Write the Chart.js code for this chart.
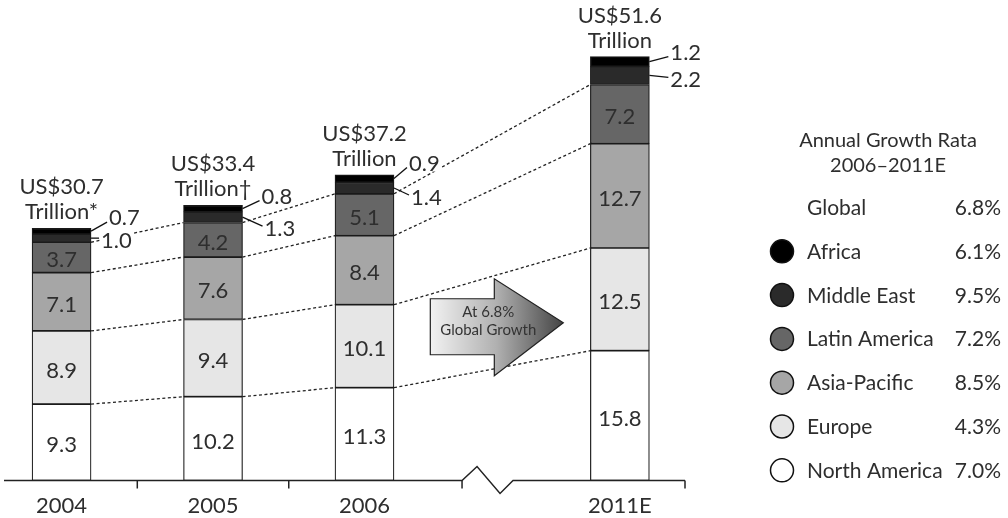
<!DOCTYPE html>
<html><head><meta charset="utf-8">
<script src="https://cdn.jsdelivr.net/npm/chart.js@4"></script>
<style>html,body{margin:0;padding:0;background:#fff}#wrap{position:relative;width:1008px;height:518px}</style>
</head><body><div id="wrap"><canvas id="c"></canvas></div>
<script>
// ---- data ----
const categories = ['2004', '2005', '2006', '2011E'];
const categoryPos = [0, 1, 2, 3.686]; // axis position (axis is broken between 2006 and 2011E)
const totals = ['US$30.7', 'US$33.4', 'US$37.2', 'US$51.6'];
const totalNotes = ['*', '†', '', ''];
const northAmerica = [9.3, 10.2, 11.3, 15.8];
const europe = [8.9, 9.4, 10.1, 12.5];
const asiaPacific = [7.1, 7.6, 8.4, 12.7];
const latinAmerica = [3.7, 4.2, 5.1, 7.2];
const middleEast = [1.0, 1.3, 1.4, 2.2];
const africa = [0.7, 0.8, 0.9, 1.2];
const seriesNames = ['North America', 'Europe', 'Asia-Pacific', 'Latin America', 'Middle East', 'Africa'];
const growthRates = ['7.0%', '4.3%', '8.5%', '7.2%', '9.5%', '6.1%'];
const globalLabel = 'Global';
const globalRate = '6.8%';
const legendTitle = ['Annual Growth Rata', '2006–2011E'];
const arrowText = ['At 6.8%', 'Global Growth'];

// ---- styles ----
const colors = ['#ffffff', '#e6e6e6', '#a6a6a6', '#666666', '#2a2a2a', '#000000'];
const FONT = 'Lato, "Open Sans", sans-serif';
const TXT = '#2e2e2e';
// outside-label offsets for small segments [dx, dy] from bar right edge / segment middle
const meOffsets = [[10, 2], [22, 11], [17, 9], [21, 4]];
const afOffsets = [[18, -14], [19, -13], [15, -16], [21, -10]];

const seriesData = [northAmerica, europe, asiaPacific, latinAmerica, middleEast, africa];

function fmt(v) { return v.toFixed(1); }

const connectors = {
  id: 'connectors',
  beforeDatasetsDraw(chart) {
    const ctx = chart.ctx;
    ctx.save();
    ctx.strokeStyle = '#222';
    ctx.lineWidth = 1.3;
    ctx.setLineDash([3, 2.5]);
    for (let k = 0; k < 4; k++) {
      const meta = chart.getDatasetMeta(k);
      for (let j = 0; j < meta.data.length - 1; j++) {
        const a = meta.data[j].getProps(['x', 'y', 'width'], true);
        const b = meta.data[j + 1].getProps(['x', 'y', 'width'], true);
        ctx.beginPath();
        ctx.moveTo(a.x + a.width / 2, a.y);
        ctx.lineTo(b.x - b.width / 2, b.y);
        ctx.stroke();
      }
    }
    ctx.restore();
  }
};

const overlay = {
  id: 'overlay',
  afterDatasetsDraw(chart) {
    const ctx = chart.ctx, xs = chart.scales.x, ys = chart.scales.y, ca = chart.chartArea;
    const y0 = ys.getPixelForValue(0);
    ctx.save();
    // axis with break
    ctx.strokeStyle = '#222';
    ctx.lineWidth = 1.5;
    ctx.setLineDash([]);
    const breakX = xs.getPixelForValue(2.644);
    ctx.beginPath();
    ctx.moveTo(ca.left, y0);
    ctx.lineTo(breakX, y0);
    ctx.lineTo(breakX + 15, y0 - 14);
    ctx.lineTo(breakX + 38, y0 + 13);
    ctx.lineTo(breakX + 51, y0);
    ctx.lineTo(ca.right, y0);
    ctx.stroke();
    [xs.getPixelForValue(0.5), xs.getPixelForValue(1.5), breakX, ca.right].forEach(x => {
      ctx.beginPath(); ctx.moveTo(x, y0); ctx.lineTo(x, y0 + 8); ctx.stroke();
    });

    // category labels
    ctx.fillStyle = TXT;
    ctx.font = '22px ' + FONT;
    ctx.textAlign = 'center';
    ctx.textBaseline = 'alphabetic';
    categories.forEach((c, i) => ctx.fillText(c, xs.getPixelForValue(categoryPos[i]), y0 + 32));

    // inside value labels
    for (let k = 0; k < 4; k++) {
      const meta = chart.getDatasetMeta(k);
      meta.data.forEach((bar, j) => {
        const p = bar.getProps(['x', 'y', 'base'], true);
        ctx.fillStyle = TXT;
        ctx.fillText(fmt(seriesData[k][j]), p.x, (p.y + p.base) / 2 + 10);
      });
    }

    // outside labels for Middle East (4) and Africa (5)
    ctx.textAlign = 'left';
    [[4, meOffsets, -2], [5, afOffsets, 5]].forEach(([k, offs, endDy]) => {
      const meta = chart.getDatasetMeta(k);
      meta.data.forEach((bar, j) => {
        const p = bar.getProps(['x', 'y', 'base', 'width'], true);
        const right = p.x + p.width / 2;
        const mid = (p.y + p.base) / 2;
        const lx = right + offs[j][0];
        const cy = mid + offs[j][1];
        const txt = fmt(seriesData[k][j]);
        const w = ctx.measureText(txt).width;
        ctx.fillStyle = '#fff';
        ctx.fillRect(lx - 1, cy - 10, w + 3, 19);
        ctx.strokeStyle = '#111';
        ctx.lineWidth = 1.3;
        ctx.beginPath();
        ctx.moveTo(right, mid);
        ctx.lineTo(lx - 2, cy + endDy);
        ctx.stroke();
        ctx.fillStyle = TXT;
        ctx.fillText(txt, lx, cy + 8);
      });
    });

    // totals
    ctx.textAlign = 'center';
    const topMeta = chart.getDatasetMeta(5);
    topMeta.data.forEach((bar, j) => {
      const p = bar.getProps(['x', 'y'], true);
      ctx.fillStyle = TXT;
      ctx.fillText(totals[j], p.x, p.y - 34);
      ctx.fillText('Trillion' + totalNotes[j], p.x, p.y - 9);
    });

    // growth arrow
    const ax = xs.getPixelForValue(2.4345);
    const ay = ys.getPixelForValue(19.2);
    const pts = [[0, -24], [64, -24], [64, -44], [133, 0], [64, 53], [64, 32], [0, 32]];
    const grad = ctx.createLinearGradient(ax, 0, ax + 133, 0);
    grad.addColorStop(0, '#f2f2f2');
    grad.addColorStop(0.5, '#b0b0b0');
    grad.addColorStop(1, '#444');
    ctx.beginPath();
    pts.forEach((q, i) => i ? ctx.lineTo(ax + q[0], ay + q[1]) : ctx.moveTo(ax + q[0], ay + q[1]));
    ctx.closePath();
    ctx.fillStyle = grad;
    ctx.fill();
    ctx.strokeStyle = '#222';
    ctx.lineWidth = 1.2;
    ctx.stroke();
    ctx.fillStyle = '#333';
    ctx.font = '15px ' + FONT;
    ctx.fillText(arrowText[0], ax + 58, ay - 6);
    ctx.fillText(arrowText[1], ax + 58, ay + 12);
    ctx.restore();
  },
  afterDraw(chart) {
    const ctx = chart.ctx;
    ctx.save();
    ctx.fillStyle = TXT;
    ctx.font = '20px ' + FONT;
    ctx.textAlign = 'center';
    ctx.fillText(legendTitle[0], 888, 147);
    ctx.fillText(legendTitle[1], 888, 172);
    ctx.font = '21px ' + FONT;
    const rowY = i => 215 + i * 43.8;
    ctx.textAlign = 'left';
    ctx.fillText(globalLabel, 807, rowY(0));
    ctx.textAlign = 'right';
    ctx.fillText(globalRate, 1001, rowY(0));
    for (let r = 0; r < 6; r++) {
      const k = 5 - r;
      const y = rowY(r + 1);
      ctx.beginPath();
      ctx.arc(782, y - 7.5, 11.5, 0, Math.PI * 2);
      ctx.fillStyle = colors[k];
      ctx.fill();
      ctx.strokeStyle = '#111';
      ctx.lineWidth = 1.5;
      ctx.stroke();
      ctx.fillStyle = TXT;
      ctx.textAlign = 'left';
      ctx.fillText(seriesNames[k], 807, y);
      ctx.textAlign = 'right';
      ctx.fillText(growthRates[k], 1001, y);
    }
    ctx.restore();
  }
};

function build() {
  new Chart(document.getElementById('c'), {
    type: 'bar',
    data: {
      datasets: seriesData.map((arr, k) => ({
        label: seriesNames[k],
        data: arr.map((v, i) => ({ x: categoryPos[i], y: v })),
        backgroundColor: colors[k],
        borderColor: '#1a1a1a',
        borderWidth: 1.2,
        borderSkipped: false,
        barThickness: 59
      }))
    },
    options: {
      responsive: true,
      maintainAspectRatio: false,
      animation: false,
      layout: { padding: { left: 4, right: 323, top: 4, bottom: 37.5 } },
      plugins: { legend: { display: false }, tooltip: { enabled: false } },
      scales: {
        x: { type: 'linear', min: -0.38, max: 4.116, stacked: true, display: false, offset: false },
        y: { min: 0, max: 58, stacked: true, display: false }
      }
    },
    plugins: [connectors, overlay]
  });
}
if (document.fonts && document.fonts.load) {
  Promise.all([document.fonts.load('22px Lato'), document.fonts.load('15px Lato')]).then(build, build);
} else build();
</script>
</body></html>
